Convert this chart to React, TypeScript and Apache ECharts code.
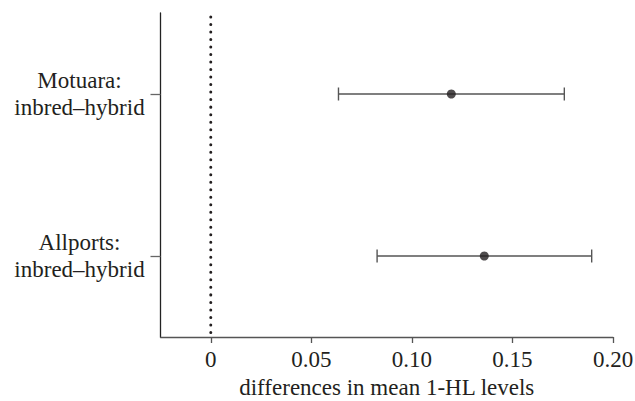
import React, { useEffect, useRef } from "react";
import * as echarts from "echarts";

const categories = ["Allports:\ninbred–hybrid", "Motuara:\ninbred–hybrid"];
const means = [0.136, 0.1196];
const lower = [0.0827, 0.0635];
const upper = [0.1894, 0.1758];
const xTicks = [0, 0.05, 0.1, 0.15, 0.2];
const refLine = [0];
const xName = "differences in mean 1-HL levels";

const FONT = "Liberation Serif";
const TEXT = "#231f20";

export default function App() {
  const ref = useRef<HTMLDivElement>(null);
  useEffect(() => {
    if (!ref.current) return;
    const chart = echarts.init(ref.current, undefined, { renderer: "svg" });
    const barData = categories.map((_, i) => [lower[i], upper[i], i]);
    const pointData = categories.map((_, i) => [means[i], i]);
    chart.setOption({
      animation: false,
      textStyle: { fontFamily: FONT },
      grid: { left: 160.5, right: 22, top: 13, bottom: 64, containLabel: false, outerBoundsMode: "none" },
      xAxis: {
        type: "value",
        min: -0.025,
        max: 0.2,
        name: xName,
        nameLocation: "middle",
        nameGap: 39,
        nameTextStyle: { fontFamily: FONT, fontSize: 23, color: TEXT },
        axisLine: { show: true, onZero: false, lineStyle: { color: "#555", width: 1.3 } },
        axisTick: { show: true, length: 6, customValues: xTicks, lineStyle: { color: "#555", width: 1.3 } },
        axisLabel: {
          customValues: xTicks,
          margin: 11,
          fontFamily: FONT,
          fontSize: 23,
          color: TEXT,
          formatter: (v: number) => (v === 0 ? "0" : v.toFixed(2)),
        },
        splitLine: { show: false },
      },
      yAxis: {
        type: "category",
        data: categories,
        boundaryGap: true,
        axisLine: { show: true, onZero: false, lineStyle: { color: "#222", width: 1.3 } },
        axisTick: { show: true, alignWithLabel: true, length: 10, lineStyle: { color: "#666", width: 1.3 } },
        axisLabel: {
          align: "center",
          margin: 81,
          fontFamily: FONT,
          fontSize: 23,
          lineHeight: 27,
          color: TEXT,
        },
        splitLine: { show: false },
      },
      series: [
        {
          type: "custom",
          data: refLine.map((v) => [v]),
          encode: { x: 0 },
          z: 1,
          silent: true,
          renderItem: (params: any, api: any) => {
            const x = api.coord([api.value(0), 0])[0];
            const cs = params.coordSys;
            return {
              type: "line",
              shape: { x1: x, y1: cs.y + 4, x2: x, y2: cs.y + cs.height },
              style: { stroke: TEXT, lineWidth: 3, lineDash: [0.01, 7.5], lineCap: "round", fill: null },
            };
          },
        },
        {
          type: "custom",
          data: barData,
          encode: { x: [0, 1], y: 2 },
          z: 2,
          renderItem: (params: any, api: any) => {
            const lo = api.coord([api.value(0), api.value(2)]);
            const hi = api.coord([api.value(1), api.value(2)]);
            const h = 6.5;
            const style = { stroke: "#555", lineWidth: 1.4 };
            return {
              type: "group",
              children: [
                { type: "line", shape: { x1: lo[0], y1: lo[1], x2: hi[0], y2: hi[1] }, style },
                { type: "line", shape: { x1: lo[0], y1: lo[1] - h, x2: lo[0], y2: lo[1] + h }, style },
                { type: "line", shape: { x1: hi[0], y1: hi[1] - h, x2: hi[0], y2: hi[1] + h }, style },
              ],
            };
          },
        },
        {
          type: "scatter",
          data: pointData,
          symbol: "circle",
          symbolSize: 9,
          z: 3,
          itemStyle: { color: TEXT },
        },
      ],
    });
    return () => chart.dispose();
  }, []);
  return (
    <div
      ref={ref}
      style={{ position: "fixed", left: 0, top: 0, width: 635, height: 401, background: "#fff" }}
    />
  );
}
